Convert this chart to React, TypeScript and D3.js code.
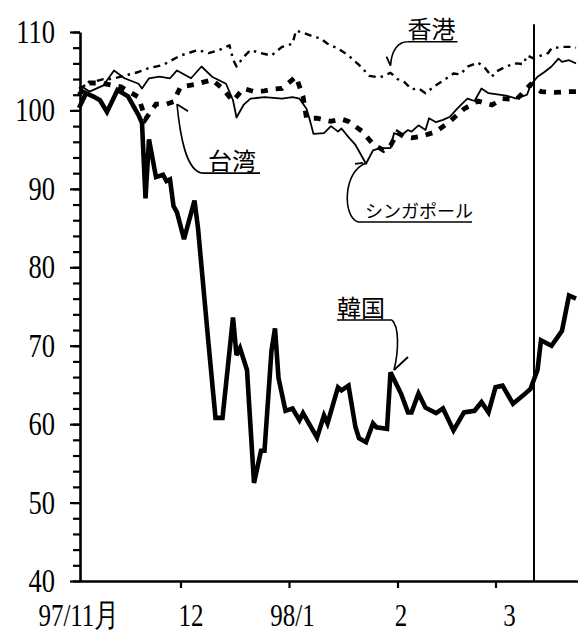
import React from "react";
import * as d3 from "d3";

// 東アジア株価指数(97/11月初=100) — 日次の読み取り値
const parse = d3.utcParse("%y/%m/%d");

const koreaDates = [
  "97/11/02", "97/11/04", "97/11/06", "97/11/08", "97/11/10", "97/11/13", "97/11/16", "97/11/19",
  "97/11/20", "97/11/21", "97/11/22", "97/11/24", "97/11/26", "97/11/27", "97/11/28", "97/11/29",
  "97/11/30", "97/12/02", "97/12/05", "97/12/06", "97/12/09", "97/12/11", "97/12/13", "97/12/16",
  "97/12/17", "97/12/18", "97/12/20", "97/12/22", "97/12/24", "97/12/25", "97/12/27", "97/12/28",
  "97/12/29", "97/12/31", "98/01/02", "98/01/04", "98/01/05", "98/01/09", "98/01/11", "98/01/12",
  "98/01/15", "98/01/16", "98/01/18", "98/01/20", "98/01/21", "98/01/23", "98/01/25", "98/01/26",
  "98/01/29", "98/01/30", "98/02/02", "98/02/04", "98/02/05", "98/02/07", "98/02/09", "98/02/12",
  "98/02/14", "98/02/17", "98/02/20", "98/02/23", "98/02/25", "98/02/27", "98/03/01", "98/03/03",
  "98/03/06", "98/03/09", "98/03/11", "98/03/13", "98/03/14", "98/03/17", "98/03/20", "98/03/22",
  "98/03/24",
];
const koreaValues = [
  100.3, 102.2, 101.8, 101.3, 99.8, 102.6, 101.8, 99.4,
  98.4, 88.8, 96.3, 91.5, 91.8, 91.0, 91.2, 87.8,
  87.0, 83.6, 88.5, 85.0, 70.3, 60.8, 60.8, 73.6,
  68.8, 69.7, 66.9, 52.5, 56.6, 56.6, 69.4, 72.2,
  65.9, 61.7, 62.0, 60.5, 61.4, 58.3, 61.1, 60.1,
  64.7, 64.3, 64.9, 59.6, 58.2, 57.7, 60.1, 59.6,
  59.4, 66.6, 63.9, 61.5, 61.5, 63.9, 62.1, 61.4,
  62.0, 59.2, 61.5, 61.7, 62.8, 61.5, 64.7, 64.9,
  62.6, 63.7, 64.5, 66.9, 70.7, 70.0, 71.9, 76.4,
  76.0,
];

const singaporeDates = [
  "97/11/02", "97/11/03", "97/11/05", "97/11/09", "97/11/12", "97/11/15", "97/11/19", "97/11/20",
  "97/11/22", "97/11/25", "97/11/28", "97/11/30", "97/12/04", "97/12/07", "97/12/10", "97/12/14",
  "97/12/16", "97/12/17", "97/12/19", "97/12/21", "97/12/25", "97/12/30", "98/01/02", "98/01/04",
  "98/01/06", "98/01/07", "98/01/08", "98/01/11", "98/01/13", "98/01/15", "98/01/16", "98/01/18",
  "98/01/20", "98/01/23", "98/01/25", "98/01/27", "98/01/30", "98/01/31", "98/02/02", "98/02/04",
  "98/02/05", "98/02/07", "98/02/09", "98/02/10", "98/02/12", "98/02/14", "98/02/16", "98/02/18",
  "98/02/20", "98/02/21", "98/02/23", "98/02/25", "98/02/27", "98/03/04", "98/03/07", "98/03/10",
  "98/03/11", "98/03/13", "98/03/15", "98/03/17", "98/03/19", "98/03/20", "98/03/22", "98/03/24",
];
const singaporeValues = [
  102.0, 103.0, 102.4, 103.2, 105.1, 104.1, 103.4, 102.8,
  104.1, 104.3, 104.1, 105.1, 104.1, 105.6, 104.3, 103.4,
  101.3, 99.1, 100.7, 101.5, 101.7, 101.5, 101.7, 101.5,
  100.2, 98.7, 97.0, 97.1, 98.0, 97.3, 97.7, 96.6,
  95.6, 93.2, 94.9, 95.2, 95.2, 97.1, 96.8, 97.5,
  97.3, 98.1, 97.5, 99.0, 98.5, 98.8, 99.2, 100.2,
  101.1, 101.5, 101.2, 102.8, 102.2, 101.9, 101.5, 102.0,
  103.2, 104.3, 104.9, 105.6, 106.6, 106.2, 106.4, 106.0,
];

const hongKongDates = [
  "97/11/02", "97/11/05", "97/11/09", "97/11/11", "97/11/14", "97/11/19", "97/11/22", "97/11/26",
  "97/12/01", "97/12/06", "97/12/09", "97/12/12", "97/12/15", "97/12/16", "97/12/17", "97/12/19",
  "97/12/21", "97/12/24", "97/12/27", "97/12/30", "98/01/02", "98/01/03", "98/01/05", "98/01/08",
  "98/01/10", "98/01/12", "98/01/15", "98/01/18", "98/01/21", "98/01/24", "98/01/27", "98/01/30",
  "98/02/01", "98/02/03", "98/02/05", "98/02/07", "98/02/09", "98/02/12", "98/02/14", "98/02/17",
  "98/02/19", "98/02/21", "98/02/24", "98/02/26", "98/02/28", "98/03/01", "98/03/04", "98/03/07",
  "98/03/09", "98/03/10", "98/03/12", "98/03/14", "98/03/16", "98/03/17", "98/03/20", "98/03/23",
  "98/03/24",
];
const hongKongValues = [
  102.8, 103.5, 104.0, 104.0, 104.3, 104.9, 105.4, 105.8,
  107.0, 107.7, 107.3, 107.7, 108.3, 106.5, 105.6, 106.8,
  107.7, 107.3, 107.0, 108.1, 108.5, 110.2, 109.9, 109.4,
  109.2, 108.5, 107.9, 107.0, 105.8, 104.4, 104.2, 104.8,
  104.0, 103.6, 102.7, 102.8, 102.2, 103.2, 103.8, 104.7,
  104.6, 105.6, 106.1, 105.4, 104.3, 104.9, 105.6, 106.0,
  105.9, 107.0, 106.6, 107.0, 107.3, 107.9, 108.1, 108.1,
  108.0,
];

const taiwanDates = [
  "97/11/02", "97/11/05", "97/11/08", "97/11/14", "97/11/19", "97/11/21", "97/11/24", "97/11/27",
  "97/11/29", "97/12/01", "97/12/05", "97/12/10", "97/12/13", "97/12/16", "97/12/19", "97/12/22",
  "97/12/25", "97/12/27", "97/12/30", "98/01/03", "98/01/05", "98/01/06", "98/01/09", "98/01/13",
  "98/01/16", "98/01/18", "98/01/22", "98/01/25", "98/01/28", "98/01/30", "98/02/01", "98/02/03",
  "98/02/05", "98/02/08", "98/02/12", "98/02/16", "98/02/20", "98/02/24", "98/02/28", "98/03/03",
  "98/03/07", "98/03/11", "98/03/14", "98/03/18", "98/03/22", "98/03/24",
];
const taiwanValues = [
  102.0, 103.5, 103.5, 103.0, 101.7, 98.9, 100.8, 100.8,
  101.1, 103.0, 103.3, 103.9, 102.8, 101.2, 102.8, 102.4,
  102.5, 102.7, 102.8, 104.3, 101.8, 99.0, 99.0, 98.6,
  98.9, 98.6, 97.3, 95.7, 94.9, 95.5, 97.2, 96.6,
  96.5, 96.7, 97.3, 98.6, 100.2, 101.2, 100.7, 101.5,
  101.4, 103.3, 102.4, 102.3, 102.4, 102.4,
];

const yMinorTicks = d3.range(40, 111, 2);
const yMajorTicks = [40, 50, 60, 70, 80, 90, 100, 110];
const xTickDates = ["97/12/01", "98/01/01", "98/02/01", "98/03/01"];
const xLabels = ["97/11月", "12", "98/1", "2", "3"];
const xLabelDates = ["97/11/02", "97/12/04", "98/01/02", "98/02/02", "98/03/05"];
const markerDate = "98/03/12";

const annoTexts = ["香港", "台湾", "シンガポール", "韓国"];
const annoTipDates = ["98/01/30", "97/11/30", "98/01/23", "98/01/31"];
const annoTipValues = [105.7, 100.8, 93.3, 66.9];

// callout layout (px, relative to the tip)
const annoLayout = [
  { ax: 17, ay: -24, side: "left", width: 50, size: 24, tx: 0, ty: -4, c1: [-9, 0], c2: [1, -16], arrow: [[-4, -9], [0, 0]] },
  { ax: 26, ay: 69, side: "left", width: 57, size: 24, tx: 5, ty: -3, c1: [-17, -1], c2: [3, 31], arrow: [[0, 0], [11, 7]] },
  { ax: -8, ay: 59, side: "left", width: 114, size: 18, tx: 7, ty: -4, c1: [-15, -4], c2: [-24, 9], arrow: [[-11, 1], [-3, 0]] },
  { ax: -2, ay: -50, side: "right", width: 55, size: 24, tx: 0, ty: -3, c1: [7, 6], c2: [5, -20], arrow: [[0, 0], [14, -13]] },
];

const W = 578;
const H = 637;
const numFont = "'Liberation Serif', 'DejaVu Serif', serif";
const jpFont = "'Noto Sans CJK JP', 'Noto Sans CJK SC', sans-serif";

const x = d3.scaleUtc().domain([parse("97/11/02")!, parse("98/03/25")!]).range([79, 579.5]);
const y = d3.scaleLinear().domain([40, 110]).range([581, 32]);

type Pt = { date: Date; value: number };
const zip = (dates: string[], values: number[]): Pt[] =>
  dates.map((d, i) => ({ date: parse(d)!, value: values[i] }));

const line = d3.line<Pt>().x(d => x(d.date)).y(d => y(d.value));

const series = [
  { name: "韓国", pts: zip(koreaDates, koreaValues), width: 4.6, dash: "none", join: "miter" },
  { name: "シンガポール", pts: zip(singaporeDates, singaporeValues), width: 1.8, dash: "none", join: "round" },
  { name: "香港", pts: zip(hongKongDates, hongKongValues), width: 2.4, dash: "7,5,2.5,5", join: "round" },
  { name: "台湾", pts: zip(taiwanDates, taiwanValues), width: 4.8, dash: "7,8", join: "miter" },
];

const Num = (props: { x: number; y: number; anchor: string; text: string; size?: number }) => (
  <text
    transform={`translate(${props.x},${props.y}) scale(0.78,1)`}
    textAnchor={props.anchor}
    fontFamily={numFont}
    fontSize={props.size ?? 34}
    fill="#000"
  >
    {props.text}
  </text>
);

const App = () => {
  const yAxisRef = React.useRef<SVGGElement>(null);
  const xAxisRef = React.useRef<SVGGElement>(null);

  React.useEffect(() => {
    const gy = d3.select(yAxisRef.current);
    gy.selectAll("*").remove();
    gy.append("g")
      .call(d3.axisLeft(y).tickValues(yMinorTicks).tickSize(7).tickSizeOuter(0).tickFormat(() => ""));
    gy.append("g")
      .call(d3.axisLeft(y).tickValues(yMajorTicks).tickSize(10).tickSizeOuter(0).tickFormat(() => ""))
      .select(".domain").remove();
    gy.selectAll(".domain").attr("stroke-width", 2.6);
    gy.selectAll(".tick line").attr("stroke-width", 2.2);

    const gx = d3.select(xAxisRef.current);
    gx.selectAll("*").remove();
    gx.call(
      d3.axisBottom(x)
        .tickValues(xTickDates.map(d => parse(d)!))
        .tickSize(7)
        .tickSizeOuter(0)
        .tickFormat(() => "")
    );
    gx.selectAll(".domain").attr("stroke-width", 2.6);
    gx.selectAll(".tick line").attr("stroke-width", 2.2);
  }, []);

  const mx = x(parse(markerDate)!);

  return (
    <svg
      width={W}
      height={H}
      style={{ position: "absolute", left: 0, top: 0, background: "#fff" }}
    >
      <rect width={W} height={H} fill="#fff" />

      {series.map(s => (
        <path
          key={s.name}
          d={line(s.pts) ?? ""}
          fill="none"
          stroke="#000"
          strokeWidth={s.width}
          strokeDasharray={s.dash}
          strokeLinejoin={s.join as any}
          strokeMiterlimit={3}
        />
      ))}

      <line x1={mx} x2={mx} y1={y(111)} y2={y(40)} stroke="#000" strokeWidth={2} />

      <g ref={yAxisRef} transform={`translate(${x.range()[0] + 1},0)`} />
      <g ref={xAxisRef} transform={`translate(0,${y(40)})`} />

      {yMajorTicks.map(v => (
        <Num key={v} x={55} y={y(v) + 11} anchor="end" text={String(v)} />
      ))}

      {xLabels.map((t, i) => (
        <Num key={t} x={x(parse(xLabelDates[i])!)} y={626} anchor="middle" text={t} size={32} />
      ))}

      {annoTexts.map((t, i) => {
        const L = annoLayout[i];
        const tx = x(parse(annoTipDates[i])!);
        const ty = y(annoTipValues[i]);
        const axp = tx + L.ax;
        const ayp = ty + L.ay;
        const left = L.side === "left" ? axp : axp - L.width;
        const path = `M${axp},${ayp} C${axp + L.c1[0]},${ayp + L.c1[1]} ${tx + L.c2[0]},${ty + L.c2[1]} ${tx},${ty}`;
        return (
          <g key={t}>
            <path d={path} fill="none" stroke="#000" strokeWidth={1.6} />
            <line
              x1={tx + L.arrow[0][0]}
              y1={ty + L.arrow[0][1]}
              x2={tx + L.arrow[1][0]}
              y2={ty + L.arrow[1][1]}
              stroke="#000"
              strokeWidth={1.8}
            />
            <line x1={left} x2={left + L.width} y1={ayp} y2={ayp} stroke="#000" strokeWidth={1.6} />
            <text
              x={left + L.tx}
              y={ayp + L.ty}
              fontFamily={jpFont}
              fontSize={L.size}
              fill="#000"
            >
              {t}
            </text>
          </g>
        );
      })}
    </svg>
  );
};

export default App;
